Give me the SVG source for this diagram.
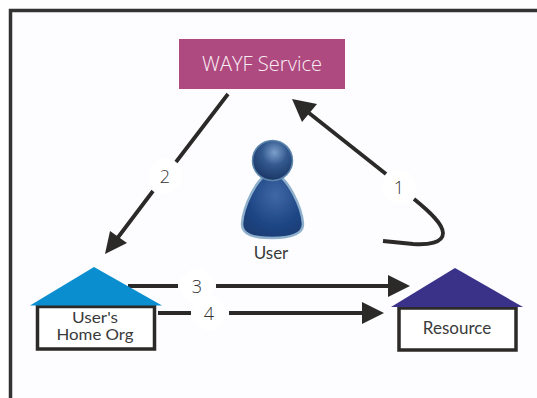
<svg xmlns="http://www.w3.org/2000/svg" width="537" height="398" viewBox="0 0 537 398">
<style>
.ln{fill:none;stroke:#2b2a29;stroke-width:3.800}
.hd{fill:#2b2a29}
.halo{fill:#fff}
.num{font:300 18px "Open Sans","Liberation Sans",sans-serif;fill:#333;text-anchor:middle}
.lbl{font:17px Lato,"Liberation Sans",sans-serif;fill:#3a3a3a;text-anchor:middle}
.box{fill:#fff;stroke:#2b2a29;stroke-width:3.500}
</style>
<defs>
<radialGradient id="hg" cx="0.55" cy="0.3" r="0.7"><stop offset="0" stop-color="#7d9fcb"/><stop offset="0.45" stop-color="#33598f"/><stop offset="1" stop-color="#1b3665"/></radialGradient>
<radialGradient id="bg" cx="0.55" cy="0.35" r="0.75"><stop offset="0" stop-color="#3f68a6"/><stop offset="0.6" stop-color="#1f4685"/><stop offset="1" stop-color="#1a3a70"/></radialGradient>
<filter id="soft" x="-10%" y="-10%" width="120%" height="120%"><feGaussianBlur stdDeviation="0.700"/></filter>
</defs>
<rect width="537" height="398" fill="#fff"/>
<rect x="11" y="11" width="526" height="387" fill="#fdfdff"/>
<path d="M10.500 398V10.500H537" fill="none" stroke="#333" stroke-width="3.500"/>
<g id="connectors">
<path class="ln" d="M228 94L176 162M153 191L116 240"/>
<path class="hd" d="M105 254L110 231L127 243Z"/>
<path class="ln" d="M386 174L309 113"/>
<path class="hd" d="M292 99L317 104L302 122Z"/>
<path class="ln" d="M414 199C430 212 443 224 443 233C443 243 428 245 413 244C403 243 393 242 383 241"/>
<path class="ln" d="M128 286H178M216 286H390"/>
<path class="hd" d="M388 275L410 286L388 297Z"/>
<path class="ln" d="M158 313H191M229 313H364"/>
<path class="hd" d="M362 302L384 313L362 324Z"/>
<g id="label-1"><circle class="halo" cx="399" cy="187" r="17"/><text class="num" x="399" y="194">1</text></g>
<g id="label-2"><circle class="halo" cx="165" cy="176" r="17"/><text class="num" x="165" y="183">2</text></g>
<g id="label-3"><circle class="halo" cx="197" cy="286" r="17"/><text class="num" x="197" y="293">3</text></g>
<g id="label-4"><circle class="halo" cx="209" cy="313" r="17"/><text class="num" x="209" y="320">4</text></g>
</g>
<g id="wayf"><rect x="179" y="39" width="166" height="50" fill="#ae4a80"/><text x="262" y="71" font-family="'Open Sans','Liberation Sans',sans-serif" font-weight="300" font-size="20" fill="#fbeef5" text-anchor="middle" textLength="120" lengthAdjust="spacingAndGlyphs">WAYF Service</text></g>
<g id="user">
<g filter="url(#soft)">
<path d="M272 172C256 176 243 208 242 224C242 235 254 238 272 238C290 238 303 235 303 224C302 208 288 176 272 172Z" fill="url(#bg)" stroke="#8fb0cc" stroke-width="2.500"/>
<circle cx="272.500" cy="160.500" r="20" fill="url(#hg)" stroke="#5d86ad" stroke-width="1.500"/>
</g>
<text class="lbl" x="271" y="259">User</text>
</g>
<g id="home">
<rect class="box" x="37.500" y="306.500" width="117" height="42.500"/>
<path d="M30 305.500L94 267L162 305.500Z" fill="#0a8ed0"/>
<text x="95" y="323" font-family="Lato,'Liberation Sans',sans-serif" font-size="15.500" fill="#3a3a3a" text-anchor="middle" textLength="46" lengthAdjust="spacingAndGlyphs">User's</text>
<text x="95" y="340" font-family="Lato,'Liberation Sans',sans-serif" font-size="15.500" fill="#3a3a3a" text-anchor="middle" textLength="77" lengthAdjust="spacingAndGlyphs">Home Org</text>
</g>
<g id="resource">
<rect class="box" x="399" y="308" width="117" height="42"/>
<path d="M391 307L455 268L523 307Z" fill="#3a3189"/>
<text class="lbl" x="457" y="334">Resource</text>
</g>
</svg>
